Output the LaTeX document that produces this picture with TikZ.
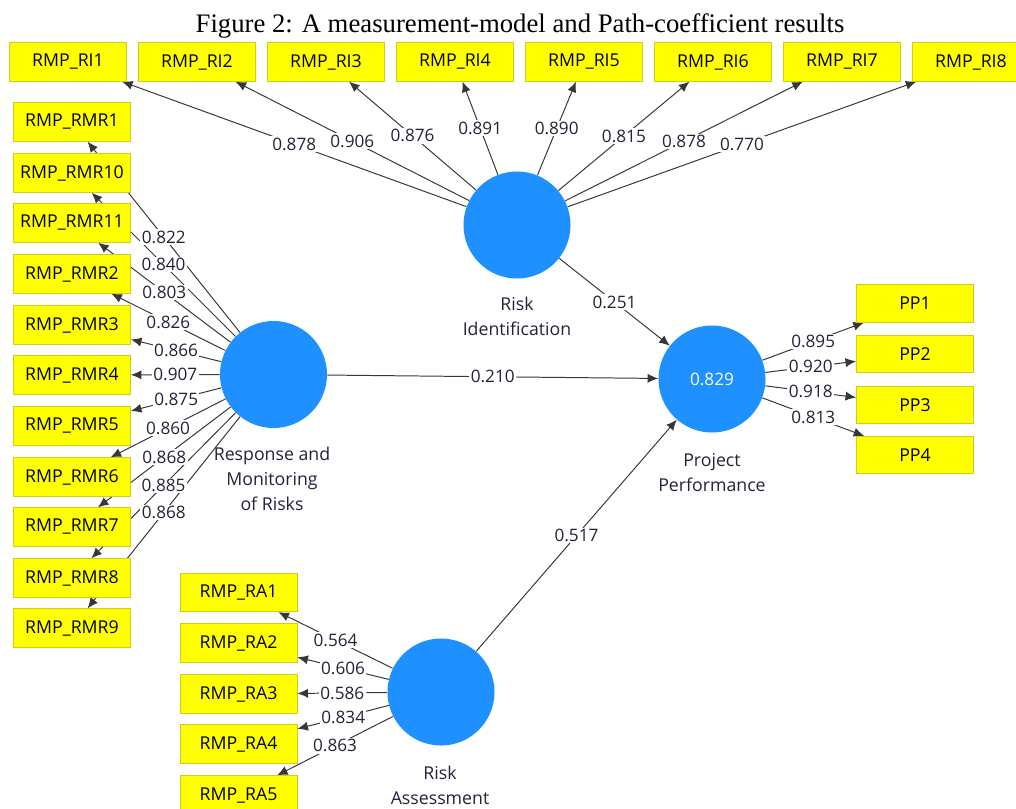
\documentclass[tikz,border=0pt]{standalone}
\usepackage{fontspec}
\setmainfont{Liberation Serif}
\newfontfamily\uif{Open Sans}
\usetikzlibrary{shapes.geometric,arrows.meta,backgrounds}
\definecolor{lvc}{RGB}{30,144,255}
\definecolor{indc}{RGB}{255,255,0}
\definecolor{indb}{RGB}{205,205,30}
\definecolor{edgec}{RGB}{55,55,55}
\definecolor{numc}{RGB}{35,35,55}
\begin{document}
\begin{tikzpicture}[x=0.025cm,y=-0.025cm,
  ind/.style={rectangle, fill=indc, draw=indb, line width=0.6pt,
    minimum width=2.925cm, minimum height=0.96cm, inner sep=0pt,
    font=\uif\fontsize{12.6}{14}\selectfont, text=black},
  lvar/.style={circle, fill=lvc, minimum size=2.675cm, inner sep=0pt,
    font=\uif\fontsize{12.2}{14}\selectfont, text=white},
  lvname/.style={align=center, font=\uif\fontsize{12.6}{17.7}\selectfont, text=numc},
  lbl/.style={fill=white, inner sep=1pt, font=\uif\fontsize{12.2}{14}\selectfont, text=numc},
  link/.style={draw=edgec, line width=0.7pt, -{Latex[length=7.5pt,width=6.5pt]}}
]
\useasboundingbox (0,0) rectangle (1016,808);

% title
\node[anchor=base, font=\fontsize{19}{22}\selectfont] (title) at (520,33)
  {Figure 2: A measurement-model and Path-coefficient results};

% latent variables
\node[lvar] (RI)  at (517,225) {};
\node[lvar] (RMR) at (273.5,374.5) {};
\node[lvar] (PP)  at (712,379) {0.829};
\node[lvar] (RA)  at (441,692) {};

\node[lvname] (nRI)  at (517,316.5) {Risk\\Identification};
\node[lvname] (nRMR) at (272,479) {Response and\\Monitoring\\of Risks};
\node[lvname] (nPP)  at (712,472.5) {Project\\Performance};
\node[lvname] (nRA)  at (440,785) {Risk\\Assessment};

% RI indicators
\foreach \i in {1,...,8} {
  \node[ind] (ri\i) at ({68+129*(\i-1)},62) {RMP\_RI\i};
}
% RMR indicators
\foreach \lab/\y/\k in {1/122/1,10/173/2,11/223/3,2/274/4,3/325/5,4/375/6,5/426/7,6/477/8,7/527/9,8/578/10,9/628/11} {
  \node[ind] (rmr\k) at (72,\y) {RMP\_RMR\lab};
}
% PP indicators
\foreach \i/\y in {1/303.5,2/354,3/405,4/455} {
  \node[ind, minimum height=0.93cm] (pp\i) at (915,\y) {PP\i};
}
% RA indicators
\foreach \i/\y in {1/592.5,2/643,3/694,4/744,5/795} {
  \node[ind] (ra\i) at (238.5,\y) {RMP\_RA\i};
}

% connectors
\begin{scope}[on background layer]
  \foreach \i in {1,...,8} { \draw[link] (RI) -- (ri\i); }
  \foreach \k in {1,...,11} { \draw[link] (RMR) -- (rmr\k); }
  \foreach \i in {1,...,4} { \draw[link] (PP) -- (pp\i); }
  \foreach \i in {1,...,5} { \draw[link] (RA) -- (ra\i); }
  \draw[link] (RI) -- (PP);
  \draw[link] (RMR) -- (PP);
  \draw[link] (RA) -- (PP);
\end{scope}

% loadings
\foreach \i/\v in {1/0.878,2/0.906,3/0.876,4/0.891,5/0.890,6/0.815,7/0.878,8/0.770} {
  \path (RI) -- node[lbl] {\v} (ri\i);
}
\foreach \k/\v in {1/0.822,2/0.840,3/0.803,4/0.826,5/0.866,6/0.907,7/0.875,8/0.860,9/0.868,10/0.885,11/0.868} {
  \path (RMR) -- node[lbl] {\v} (rmr\k);
}
\foreach \i/\v in {1/0.895,2/0.920,3/0.918,4/0.813} {
  \path (PP) -- node[lbl] {\v} (pp\i);
}
\foreach \i/\v in {1/0.564,2/0.606,3/0.586,4/0.834,5/0.863} {
  \path (RA) -- node[lbl] {\v} (ra\i);
}
% path coefficients
\path (RI) -- node[lbl] {0.251} (PP);
\path (RMR) -- node[lbl] {0.210} (PP);
\path (RA) -- node[lbl] {0.517} (PP);
\end{tikzpicture}
\end{document}
